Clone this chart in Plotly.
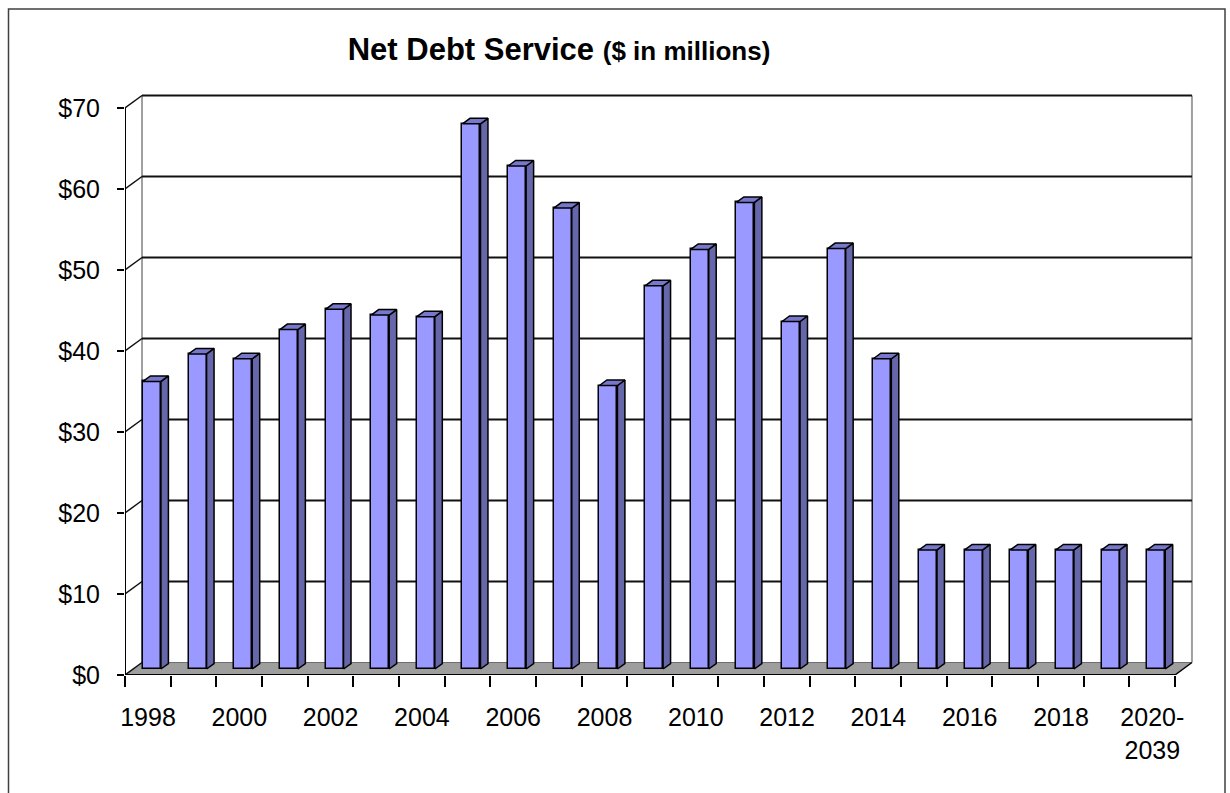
import plotly.graph_objects as go

# ---------------- data ----------------
categories = ["1998", "1999", "2000", "2001", "2002", "2003", "2004", "2005",
              "2006", "2007", "2008", "2009", "2010", "2011", "2012", "2013",
              "2014", "2015", "2016", "2017", "2018", "2019", "2020-2039"]
net_debt_service = [35.5, 38.9, 38.3, 41.9, 44.4, 43.7, 43.5, 67.3,
                    62.1, 56.9, 35.0, 47.3, 51.8, 57.6, 42.9, 51.9,
                    38.3, 14.7, 14.7, 14.7, 14.7, 14.7, 14.7]
x_tick_labels = ["1998", "2000", "2002", "2004", "2006", "2008", "2010",
                 "2012", "2014", "2016", "2018", "2020-<br>2039"]
x_tick_label_categories = ["1998", "2000", "2002", "2004", "2006", "2008", "2010",
                           "2012", "2014", "2016", "2018", "2020-2039"]
y_tick_values = [0, 10, 20, 30, 40, 50, 60, 70]
y_tick_labels = ["$0", "$10", "$20", "$30", "$40", "$50", "$60", "$70"]

# ---------------- layout geometry ----------------
W, H = 1230, 793
ML, MR, MT, MB = 125, 34, 90, 118
PX_PER_CAT = 45.65
PX_PER_USD = 8.1
plot_w = W - ML - MR
plot_h = H - MT - MB
X0 = -0.5
X1 = X0 + plot_w / PX_PER_CAT
Y1 = plot_h / PX_PER_USD

n = len(categories)
XE = n - 0.5  # right end of category axis
DX = 17.0 / PX_PER_CAT   # full depth offset in category units
DY = 12.5 / PX_PER_USD   # full depth offset in $ units
T0, T1 = 0.48, 0.92      # bar depth span (fraction of full depth)
BAR_SHIFT = 0.09         # front-face centre offset from category centre
HALF = 0.197             # half bar width in category units
YMAX = max(y_tick_values)

FONT = "Arial, 'Liberation Sans', sans-serif"
FRONT = "#9999FF"
SIDE = "#6666AA"
TOP = "#7777CC"

idx = list(range(n))
bar_x = [i + BAR_SHIFT for i in idx]
base = T0 * DY
ddx = (T1 - T0) * DX
ddy = (T1 - T0) * DY

side_x, side_y, top_x, top_y = [], [], [], []
for i, v in zip(idx, net_debt_service):
    xl = bar_x[i] - HALF
    xr = bar_x[i] + HALF
    b = base
    t = base + v
    side_x += [xr, xr + ddx, xr + ddx, xr, xr, None]
    side_y += [b, b + ddy, t + ddy, t, b, None]
    top_x += [xl, xr, xr + ddx, xl + ddx, xl, None]
    top_y += [t, t, t + ddy, t + ddy, t, None]

fig = go.Figure()
fig.add_trace(go.Bar(
    x=bar_x, y=net_debt_service, base=base, width=2 * HALF,
    marker=dict(color=FRONT, line=dict(color="black", width=1.5)),
    hovertext=categories, hoverinfo="text+y", showlegend=False,
))
fig.add_trace(go.Scatter(
    x=side_x, y=side_y, mode="lines", fill="toself", fillcolor=SIDE,
    line=dict(color="black", width=1.5), hoverinfo="skip", showlegend=False,
))
fig.add_trace(go.Scatter(
    x=top_x, y=top_y, mode="lines", fill="toself", fillcolor=TOP,
    line=dict(color="black", width=1.5), hoverinfo="skip", showlegend=False,
))

shapes = []
# floor
shapes.append(dict(type="path", xref="x", yref="y", layer="below",
                   path=f"M {X0},0 L {XE},0 L {XE + DX},{DY} L {X0 + DX},{DY} Z",
                   fillcolor="#9E9E9E", line=dict(width=0)))
shapes.append(dict(type="line", xref="x", yref="y", layer="below",
                   x0=X0 + DX, y0=DY, x1=XE + DX, y1=DY,
                   line=dict(color="#6E6E6E", width=1)))
# back wall verticals
for xv in (X0 + DX, XE + DX):
    shapes.append(dict(type="line", xref="x", yref="y", layer="below",
                       x0=xv, y0=DY, x1=xv, y1=YMAX + DY,
                       line=dict(color="#A0A0A0", width=2)))
# gridlines on back wall and connectors on side wall
for v in y_tick_values:
    if v > 0:
        shapes.append(dict(type="line", xref="x", yref="y", layer="below",
                           x0=X0 + DX, y0=v + DY, x1=XE + DX, y1=v + DY,
                           line=dict(color="#111111", width=2)))
    shapes.append(dict(type="line", xref="x", yref="y", layer="below",
                       x0=X0, y0=v, x1=X0 + DX, y1=v + DY,
                       line=dict(color="#111111", width=1.5)))
# front edges
shapes.append(dict(type="line", xref="x", yref="y", layer="below",
                   x0=X0, y0=0, x1=XE, y1=0, line=dict(color="black", width=2)))
shapes.append(dict(type="line", xref="x", yref="y", layer="below",
                   x0=XE, y0=0, x1=XE + DX, y1=DY, line=dict(color="black", width=1.5)))
shapes.append(dict(type="line", xref="x", yref="y", layer="below",
                   x0=X0, y0=0, x1=X0, y1=YMAX, line=dict(color="black", width=2)))


# outer frame
def px_to_paper_x(px):
    return (px - ML) / plot_w


def px_to_paper_y(py):
    return (H - MB - py) / plot_h


shapes.append(dict(type="rect", xref="paper", yref="paper", layer="above",
                   x0=px_to_paper_x(8.5), x1=px_to_paper_x(1225),
                   y0=px_to_paper_y(810), y1=px_to_paper_y(9),
                   line=dict(color="#404040", width=1.5), fillcolor="rgba(0,0,0,0)"))

x_label_pos = [categories.index(c) - 0.5 for c in x_tick_label_categories]
boundaries = [i - 0.5 for i in range(n + 1)]
label_map = dict(zip(x_label_pos, x_tick_labels))
x_ticktext = [label_map.get(bv, "") for bv in boundaries]

fig.update_layout(
    width=W, height=H,
    margin=dict(l=ML, r=MR, t=MT, b=MB, autoexpand=False),
    paper_bgcolor="white", plot_bgcolor="white",
    shapes=shapes,
    bargap=0,
    title=dict(
        text="<b>Net Debt Service</b> <b><span style='font-size:26px'>($ in millions)</span></b>",
        x=559 / W, xref="container", xanchor="center",
        y=1 - 49 / H, yref="container", yanchor="middle",
        font=dict(family=FONT, size=31, color="black"),
    ),
    xaxis=dict(
        range=[X0, X1], showgrid=False, zeroline=False, showline=False,
        tickmode="array", tickvals=boundaries, ticktext=x_ticktext,
        ticks="outside", ticklen=11, tickwidth=1.5, tickcolor="black",
        ticklabelshift=int(round(PX_PER_CAT / 2)), ticklabelstandoff=9,
        tickfont=dict(family=FONT, size=25, color="black"),
        fixedrange=True,
    ),
    yaxis=dict(
        range=[0, Y1], showgrid=False, zeroline=False, showline=False,
        tickmode="array", tickvals=y_tick_values, ticktext=y_tick_labels,
        ticks="outside", ticklen=7, tickwidth=1.5, tickcolor="black",
        ticklabelstandoff=12,
        tickfont=dict(family=FONT, size=25, color="black"),
        fixedrange=True,
    ),
)

fig.write_html("out.html")
